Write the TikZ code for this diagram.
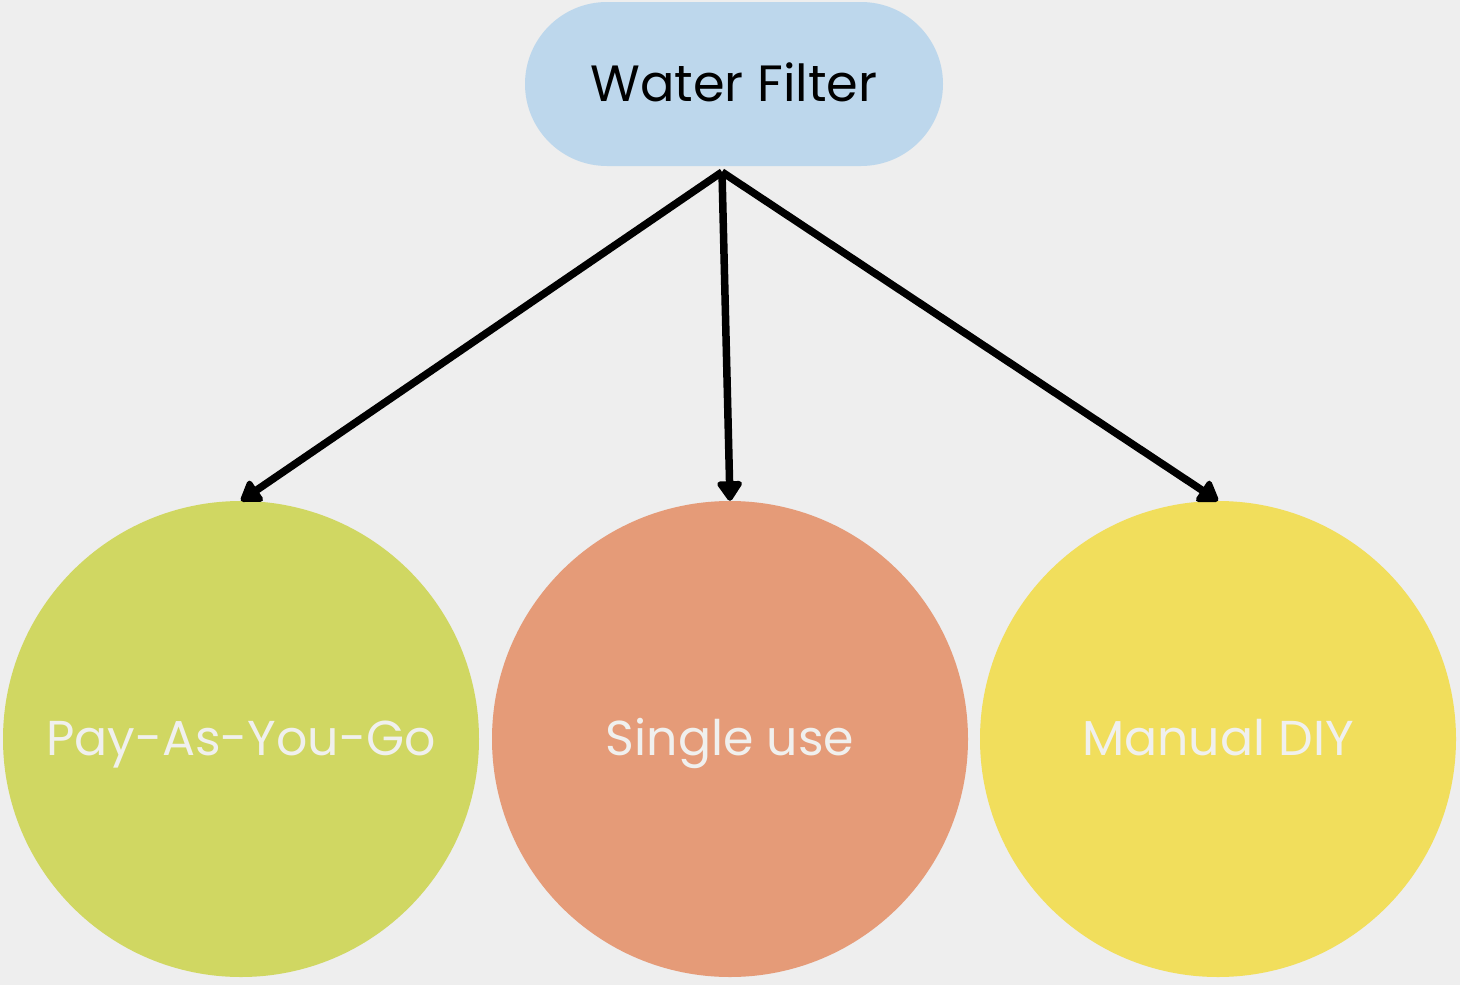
\documentclass[tikz,border=0pt]{standalone}
\usepackage{fontspec}
\setmainfont{Poppins}
\usetikzlibrary{arrows.meta}
\definecolor{bg}{HTML}{EEEEEE}
\definecolor{topfill}{HTML}{BDD7EC}
\definecolor{greenfill}{HTML}{D0D762}
\definecolor{orangefill}{HTML}{E59B78}
\definecolor{yellowfill}{HTML}{F1DE5C}
\definecolor{lighttext}{HTML}{F0F0EE}
\tikzset{
  pill/.style={fill=topfill, rounded corners=82pt, minimum width=418pt, minimum height=164pt, inner sep=0pt,
    font=\fontsize{51}{60}\selectfont, text=black, text height=39pt, text depth=5pt},
  bubble/.style={circle, minimum size=476pt, inner sep=0pt, font=\fontsize{49}{58}\selectfont,
    text=lighttext, text height=35pt, text depth=3pt},
  link/.style={line width=7.5pt, -{Triangle[length=22pt, width=28pt, round]}, line join=round}
}
\begin{document}
\begin{tikzpicture}[x=1pt, y=-1pt]
  \fill[bg] (0,0) rectangle (1460,985);
  \useasboundingbox (0,0) rectangle (1460,985);
  \node[pill] (wf) at (734,84) {Water Filter};
  \node[bubble, fill=greenfill] (payg) at (241,739) {Pay-As-You-Go};
  \node[bubble, fill=orangefill] (single) at (730,739) {Single use};
  \node[bubble, fill=yellowfill] (diy) at (1218,739) {Manual DIY};
  \coordinate (src) at (722,172);
  \draw[link] (src) -- (payg.north);
  \draw[link] (src) -- (single.north);
  \draw[link] (src) -- (diy.north);
\end{tikzpicture}
\end{document}
